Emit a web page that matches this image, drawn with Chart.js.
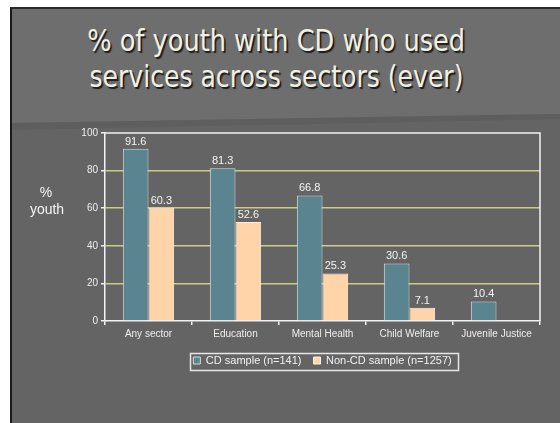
<!DOCTYPE html>
<html>
<head>
<meta charset="utf-8">
<script src="https://cdn.jsdelivr.net/npm/chart.js@4/dist/chart.umd.min.js"></script>
<style>
  html, body { margin: 0; padding: 0; background: #ffffff; width: 560px; height: 423px; overflow: hidden; }
  #slide { position: absolute; left: 10px; top: 7px; width: 550px; height: 416px; background: #646464;
           border-left: 2px solid #1a1a1a; border-top: 2px solid #2a2a2a; box-sizing: border-box; overflow: hidden; }
  #topband { position: absolute; left: 0; top: 0; width: 100%; height: 140px; background: #6e6e6e;
             clip-path: polygon(0 0, 100% 0, 100% 105px, 0 114px); }
  #shade { position: absolute; left: 0; top: 0; width: 100%; height: 140px; background: #5d5d5d;
           clip-path: polygon(0 114px, 100% 105px, 100% 110px, 0 121px); opacity: 0.8; }
  #title { position: absolute; left: 0; top: 23px; width: 553px; text-align: center;
           font-family: "DejaVu Sans", sans-serif; font-size: 30px; line-height: 36px; color: #f0f0e4;
           text-shadow: 2px 2px 1px #1c1c1c; }
  #title span { display: inline-block; white-space: nowrap; transform-origin: 50% 50%; }
  #c { position: absolute; left: 0; top: 0; }
</style>
</head>
<body>
<div id="slide"><div id="topband"></div><div id="shade"></div></div>
<div id="title"><span id="t1">% of youth with CD who used</span><br><span id="t2">services across sectors (ever)</span></div>
<canvas id="c" width="560" height="423"></canvas>
<script>
const categories = ['Any sector', 'Education', 'Mental Health', 'Child Welfare', 'Juvenile Justice'];
const cdValues = [91.6, 81.3, 66.8, 30.6, 10.4];
const nonCdValues = [60.3, 52.6, 25.3, 7.1, null];
const seriesNames = ['CD sample (n=141)', 'Non-CD sample (n=1257)'];
const yTickValues = [0, 20, 40, 60, 80, 100];
const yAxisLabel = ['%', 'youth'];

// fit title line widths
[['t1', 378], ['t2', 374]].forEach(([id, w]) => {
  const el = document.getElementById(id);
  const s = w / el.getBoundingClientRect().width;
  el.style.transform = 'scaleX(' + s + ')';
});

const FONT = '"Liberation Sans", Arial, sans-serif';

const decor = {
  id: 'decor',
  afterDatasetsDraw(chart) {
    const ctx = chart.ctx;
    ctx.save();
    ctx.font = '11px ' + FONT;
    ctx.fillStyle = '#f4f4f4';
    ctx.textAlign = 'center';
    ctx.textBaseline = 'alphabetic';
    chart.data.datasets.forEach((ds, i) => {
      chart.getDatasetMeta(i).data.forEach((bar, j) => {
        const v = ds.data[j];
        if (v == null) return;
        ctx.fillText(v.toFixed(1), bar.x, bar.y - 4);
      });
    });
    ctx.restore();
  },
  afterDraw(chart) {
    const ctx = chart.ctx;
    const a = chart.chartArea;
    ctx.save();
    ctx.strokeStyle = '#f2f2f2';
    ctx.lineWidth = 1.5;
    ctx.beginPath();
    ctx.moveTo(a.left, a.top);
    ctx.lineTo(a.right, a.top);
    ctx.lineTo(a.right, a.bottom);
    ctx.stroke();
    const lg = chart.legend;
    if (lg && lg.legendHitBoxes && lg.legendHitBoxes.length) {
      const hb = lg.legendHitBoxes;
      const first = hb[0], last = hb[hb.length - 1];
      const x0 = first.left - 3, x1 = last.left + last.width + 7;
      const cy = first.top + first.height / 2;
      ctx.strokeStyle = '#e6e6e6';
      ctx.lineWidth = 1.5;
      ctx.strokeRect(Math.round(x0) + 0.5, Math.round(cy - 8) + 0.5, Math.round(x1 - x0), 17);
    }
    ctx.fillStyle = '#f4f4f4';
    ctx.font = '14px ' + FONT;
    ctx.textAlign = 'center';
    ctx.textBaseline = 'middle';
    ctx.fillText(yAxisLabel[0], 46, 193);
    ctx.fillText(yAxisLabel[1], 47, 210);
    ctx.restore();
  }
};

new Chart(document.getElementById('c'), {
  type: 'bar',
  data: {
    labels: categories,
    datasets: [
      { label: seriesNames[0], data: cdValues, backgroundColor: '#5a8590', borderColor: '#cfdfe0', borderWidth: 1 },
      { label: seriesNames[1], data: nonCdValues, backgroundColor: '#ffd4a8', borderColor: '#fff3e6', borderWidth: 1 }
    ]
  },
  options: {
    responsive: false,
    animation: false,
    categoryPercentage: 0.59,
    barPercentage: 1.0,
    layout: { padding: { top: 133, left: 0, right: 20, bottom: 47 } },
    plugins: {
      legend: {
        position: 'bottom',
        fullSize: false,
        labels: { color: '#f2f2f2', font: { family: FONT, size: 11 }, boxWidth: 7, boxHeight: 7, padding: 12 }
      },
      title: { display: false },
      tooltip: { enabled: false }
    },
    scales: {
      y: {
        min: 0, max: 100,
        afterBuildTicks(scale) { scale.ticks = yTickValues.map(v => ({ value: v })); },
        afterFit(scale) { scale.width = 105; },
        ticks: { color: '#eeeeee', font: { family: FONT, size: 10 }, padding: 3 },
        grid: {
          color: (c) => (c.tick && (c.tick.value === 0 || c.tick.value === 100)) ? 'rgba(0,0,0,0)' : '#cccc88',
          lineWidth: 1.5,
          tickColor: '#f2f2f2',
          tickLength: 4
        },
        border: { color: '#f2f2f2', width: 1.5 }
      },
      x: {
        afterFit(scale) { scale.height = 22; },
        ticks: { color: '#eeeeee', font: { family: FONT, size: 10 }, padding: 3, maxRotation: 0 },
        grid: { drawOnChartArea: false, tickColor: '#f2f2f2', tickLength: 4, lineWidth: 1.5 },
        border: { color: '#f2f2f2', width: 1.5 }
      }
    }
  },
  plugins: [decor]
});
</script>
</body>
</html>
